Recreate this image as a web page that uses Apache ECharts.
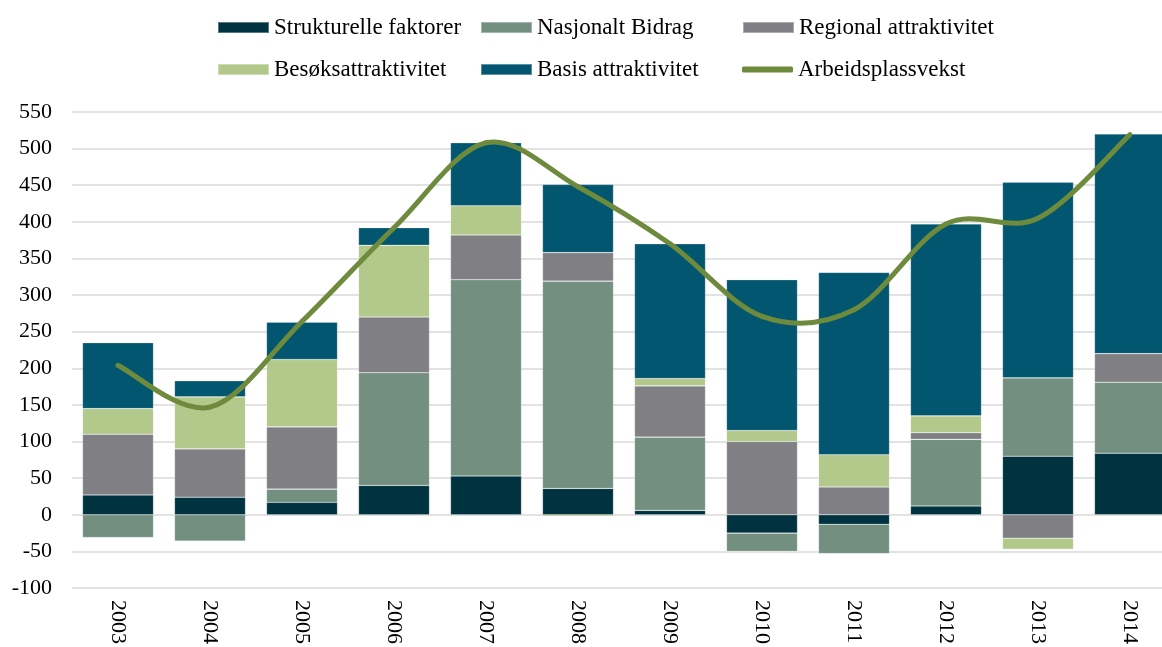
<!DOCTYPE html>
<html>
<head>
<meta charset="utf-8">
<script src="https://cdn.jsdelivr.net/npm/echarts@6/dist/echarts.min.js"></script>
<style>html,body{margin:0;padding:0;background:#fff;overflow:hidden;}#c{width:1176px;height:647px;}</style>
</head>
<body>
<div id="c"></div>
<script>
const categories = ['2003','2004','2005','2006','2007','2008','2009','2010','2011','2012','2013','2014'];
const strukturelle = [27, 24, 17, 40, 53, 36, 6, -25, -13, 12, 80, 84];
const nasjonalt = [-31, -36, 18, 154, 268, 283, 100, -25, -40, 91, 107, 97];
const regional = [83, 66, 85, 76, 61, 39, 70, 100, 38, 9, -32, 39];
const besok = [35, 71, 92, 98, 40, -2, 10, 15, 44, 23, -15, -1];
const basis = [90, 22, 51, 24, 86, 93, 184, 206, 249, 262, 267, 300];
const arbeidsplassvekst = [204, 147, 264, 392, 508, 448, 370, 271, 280, 397, 405, 519];
const yTicks = {min: -100, max: 550, interval: 50};

const font = 'Liberation Serif';
const colors = {
  s: '#01323F', n: '#728F7F', r: '#807F84', b: '#B3C98B', ba: '#02566F', l: '#6E8B3D'
};
function bar(name, data, color) {
  return {
    name, type: 'bar', stack: 'total', data, barWidth: 71,
    itemStyle: {color, borderColor: 'rgba(255,255,255,0.35)', borderWidth: 0.6}
  };
}
function leg(name, left, top, opts) {
  return Object.assign({
    data: [name], left, top, itemWidth: 51, itemHeight: 11, itemGap: 5,
    icon: 'rect',
    textStyle: {fontFamily: font, fontSize: 23, color: '#000', padding: [0,0,0,0]}
  }, opts || {});
}
// Smooth (Catmull-Rom style) line drawn through the axis scales
function renderLine(params, api) {
  const i = params.dataIndex;
  const n = arbeidsplassvekst.length;
  if (i >= n - 1) return null;
  const P = k => api.coord([Math.max(0, Math.min(n - 1, k)), arbeidsplassvekst[Math.max(0, Math.min(n - 1, k))]]);
  const p0 = P(i - 1), p1 = P(i), p2 = P(i + 1), p3 = P(i + 2);
  const t = 1 / 6;
  return {
    type: 'bezierCurve',
    shape: {
      x1: p1[0], y1: p1[1], x2: p2[0], y2: p2[1],
      cpx1: p1[0] + (p2[0] - p0[0]) * t, cpy1: p1[1] + (p2[1] - p0[1]) * t,
      cpx2: p2[0] - (p3[0] - p1[0]) * t, cpy2: p2[1] - (p3[1] - p1[1]) * t
    },
    style: {stroke: colors.l, lineWidth: 5, fill: null, lineCap: 'round'},
    z2: 10
  };
}
const chart = echarts.init(document.getElementById('c'));
chart.setOption({
  animation: false,
  legend: [
    leg('Strukturelle faktorer', 212, 11),
    leg('Nasjonalt Bidrag', 475, 11),
    leg('Regional attraktivitet', 737, 11),
    leg('Besøksattraktivitet', 212, 53),
    leg('Basis attraktivitet', 475, 53),
    leg('Arbeidsplassvekst', 737, 53, {icon: 'roundRect', itemHeight: 6})
  ],
  grid: {left: 72, top: 112, right: 0, height: 476, containLabel: false},
  xAxis: {
    type: 'category', data: categories,
    axisLine: {show: false}, axisTick: {show: false},
    axisLabel: {rotate: -90, fontFamily: font, fontSize: 22, color: '#000', margin: 12}
  },
  yAxis: {
    type: 'value', min: yTicks.min, max: yTicks.max, interval: yTicks.interval,
    axisLine: {show: false}, axisTick: {show: false},
    axisLabel: {fontFamily: font, fontSize: 22, color: '#000', margin: 20},
    splitLine: {lineStyle: {color: '#D9D9D9', width: 1.5}}
  },
  series: [
    bar('Strukturelle faktorer', strukturelle, colors.s),
    bar('Nasjonalt Bidrag', nasjonalt, colors.n),
    bar('Regional attraktivitet', regional, colors.r),
    bar('Besøksattraktivitet', besok, colors.b),
    bar('Basis attraktivitet', basis, colors.ba),
    {
      name: 'Arbeidsplassvekst', type: 'custom', coordinateSystem: 'cartesian2d',
      data: arbeidsplassvekst.map((v, i) => [i, v]),
      encode: {x: 0, y: 1}, renderItem: renderLine, clip: false, z: 5,
      itemStyle: {color: colors.l}
    }
  ]
});
</script>
</body>
</html>
